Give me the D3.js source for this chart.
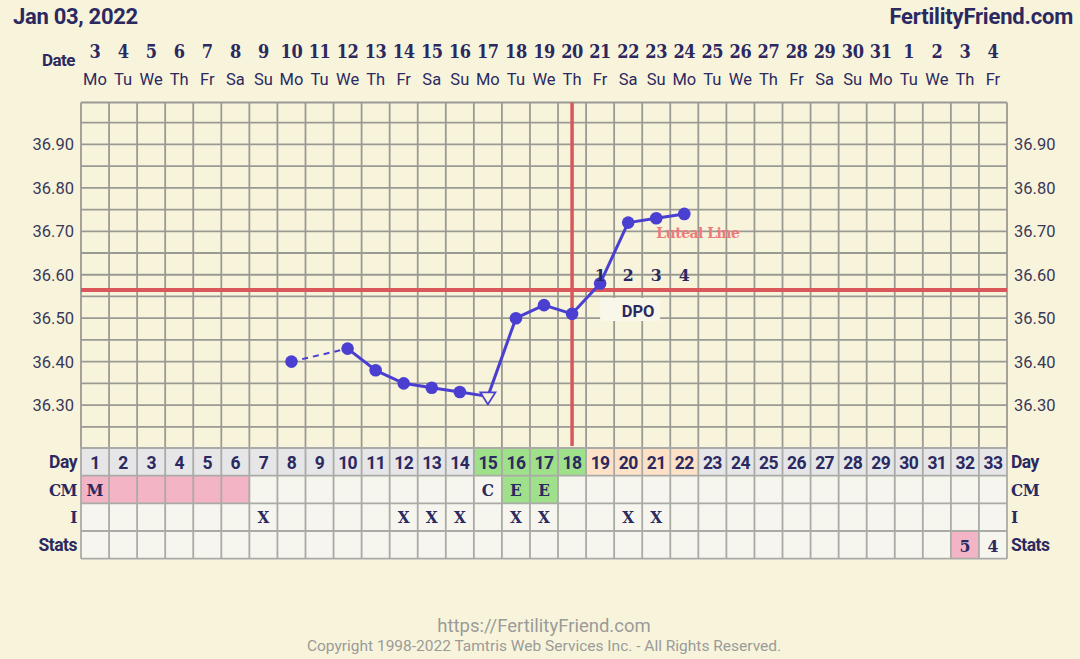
<!DOCTYPE html>
<html><head><meta charset="utf-8">
<script src="https://cdn.jsdelivr.net/npm/d3@7"></script>
<style>
html,body{margin:0;padding:0;background:#f8f4dc;}
svg{display:block;}
</style></head>
<body>
<svg id="c" width="1080" height="659"></svg>
<script>
// ---- data ----
const days = d3.range(1, 34);
const dates = [3,4,5,6,7,8,9,10,11,12,13,14,15,16,17,18,19,20,21,22,23,24,25,26,27,28,29,30,31,1,2,3,4];
const weekdays = ["Mo","Tu","We","Th","Fr","Sa","Su","Mo","Tu","We","Th","Fr","Sa","Su","Mo","Tu","We","Th","Fr","Sa","Su","Mo","Tu","We","Th","Fr","Sa","Su","Mo","Tu","We","Th","Fr"];
const temps = [null,null,null,null,null,null,null,36.40,null,36.43,36.38,36.35,36.34,36.33,36.32,36.50,36.53,36.51,36.58,36.72,36.73,36.74,null,null,null,null,null,null,null,null,null,null,null];
const tempMarkers = {15: "triangle"};
const yTicks = [36.30,36.40,36.50,36.60,36.70,36.80,36.90];
const coverline = 36.565;
const ovulationDay = 18;
const dpoDays = [19,20,21,22];
const dpoLabels = ["1","2","3","4"];
const dayRowColors = {15:"#9fe08a",16:"#9fe08a",17:"#9fe08a",18:"#9fe08a",19:"#fde2c8",20:"#fde2c8",21:"#fde2c8",22:"#fde2c8"};
const cmDays = [1,2,3,4,5,6,15,16,17];
const cmText = ["M","","","","","","C","E","E"];
const cmColors = ["#f3b4c6","#f3b4c6","#f3b4c6","#f3b4c6","#f3b4c6","#f3b4c6",null,"#9fe08a","#9fe08a"];
const intercourseDays = [7,12,13,14,16,17,20,21];
const statsDays = [32,33];
const statsText = ["5","4"];
const statsColors = ["#f3b4c6",null];
const rowLabels = ["Day","CM","I","Stats"];

// ---- drawing ----
const svg = d3.select("#c");
const navy = "#2b2960", blue = "#4a3fd0", red = "#d9575b", grid = "#9a9a94";
const sans = "Roboto, 'Noto Sans', sans-serif";
const slab = "'DejaVu Serif Condensed', 'DejaVu Serif', serif";

const x = d3.scaleBand().domain(days).range([81, 1007]);
const cx = d => x(d) + x.bandwidth()/2;
const y = d3.scaleLinear().domain([36.20, 36.95]).range([448.5, 122.7]);
const topY = 102.5, botY = 448;

function slabText(sel){ return sel.attr("font-family",slab).attr("font-weight",700).attr("font-stretch","condensed"); }

// header
svg.append("text").attr("x",13).attr("y",24).attr("font-family",sans).attr("font-weight",700)
  .attr("font-size",22).attr("fill",navy).attr("letter-spacing",-0.3).text("Jan 03, 2022");
svg.append("text").attr("x",1073).attr("y",24).attr("text-anchor","end").attr("font-family",sans).attr("font-weight",700)
  .attr("font-size",22).attr("fill",navy).attr("letter-spacing",-0.2).text("FertilityFriend.com");

svg.append("text").attr("x",75).attr("y",66).attr("text-anchor","end").attr("font-family",sans).attr("font-weight",700)
  .attr("font-size",17).attr("fill",navy).attr("letter-spacing",-0.5).text("Date");
slabText(svg.append("g").selectAll("text").data(days).join("text"))
  .attr("x",cx).attr("y",58).attr("text-anchor","middle")
  .attr("font-size",18).attr("fill",navy).attr("letter-spacing",-0.4).text((d,i)=>dates[i]);
svg.append("g").selectAll("text").data(days).join("text")
  .attr("x",cx).attr("y",85).attr("text-anchor","middle").attr("font-family",sans)
  .attr("font-size",16.5).attr("fill",navy).text((d,i)=>weekdays[i]);

// grid
const gg = svg.append("g").attr("stroke",grid).attr("stroke-width",1.8);
const hLines = d3.range(36.25, 36.951, 0.05);
gg.selectAll("line.h").data(hLines).join("line").attr("class","h")
  .attr("x1",81).attr("x2",1007).attr("y1",d=>y(d)).attr("y2",d=>y(d));
gg.append("line").attr("x1",81).attr("x2",1007).attr("y1",topY).attr("y2",topY);
gg.selectAll("line.v").data(days.concat([34])).join("line").attr("class","v")
  .attr("x1",d=>d<34?x(d):1007).attr("x2",d=>d<34?x(d):1007).attr("y1",topY).attr("y2",botY);

// y labels
[["end",74],["start",1014]].forEach(([anc,xx])=>{
  svg.append("g").selectAll("text").data(yTicks).join("text")
    .attr("x",xx).attr("y",d=>y(d)+6).attr("text-anchor",anc).attr("font-family",sans)
    .attr("font-size",16.5).attr("fill","#3a3858").text(d=>d.toFixed(2));
});

// coverline & ovulation line
svg.append("line").attr("x1",81).attr("x2",1007).attr("y1",y(coverline)).attr("y2",y(coverline))
  .attr("stroke",red).attr("stroke-width",4);
svg.append("line").attr("x1",cx(ovulationDay)).attr("x2",cx(ovulationDay)).attr("y1",topY).attr("y2",446)
  .attr("stroke",red).attr("stroke-width",3.5);

// temperature line
const pts = days.map((d,i)=>({d, t:temps[i]})).filter(p=>p.t!=null);
for (let i=0;i<pts.length-1;i++){
  const a=pts[i], b=pts[i+1];
  svg.append("line").attr("x1",cx(a.d)).attr("y1",y(a.t)).attr("x2",cx(b.d)).attr("y2",y(b.t))
    .attr("stroke",blue).attr("stroke-width",b.d-a.d>1?2:3)
    .attr("stroke-dasharray",b.d-a.d>1?"6,5":null);
}
pts.forEach(p=>{
  if (tempMarkers[p.d]==="triangle"){
    const X=cx(p.d), Y=y(p.t);
    svg.append("path").attr("d",`M${X-7.5},${Y-4}L${X+7.5},${Y-4}L${X},${Y+8}Z`)
      .attr("fill","#f8f4dc").attr("stroke",blue).attr("stroke-width",1.8);
  } else {
    svg.append("circle").attr("cx",cx(p.d)).attr("cy",y(p.t)).attr("r",6.3).attr("fill",blue);
  }
});

// DPO labels
slabText(svg.append("g").selectAll("text").data(dpoDays).join("text"))
  .attr("x",cx).attr("y",281).attr("text-anchor","middle")
  .attr("font-size",17.5).attr("fill",navy).text((d,i)=>dpoLabels[i]);
svg.append("rect").attr("x",cx(19)).attr("y",298).attr("width",60).attr("height",23).attr("fill","#f9f7ea");
svg.append("text").attr("x",cx(19)+38).attr("y",317).attr("text-anchor","middle").attr("font-family",sans)
  .attr("font-weight",700).attr("font-size",16.5).attr("fill",navy).text("DPO");
slabText(svg.append("text")).attr("x",cx(21)).attr("y",238)
  .attr("font-size",15.5).attr("fill","#ee7b7b").attr("letter-spacing",-0.5).text("Luteal Line");

// table
const rowY = [448, 475.7, 503.3, 531, 558.7];
const tg = svg.append("g");
tg.selectAll("rect.day").data(days).join("rect")
  .attr("x",d=>x(d)).attr("y",rowY[0]).attr("width",x.bandwidth()).attr("height",rowY[1]-rowY[0])
  .attr("fill",d=>dayRowColors[d]||"#e6e6e8");
for (let r=1;r<4;r++){
  tg.append("rect").attr("x",81).attr("y",rowY[r]).attr("width",926).attr("height",rowY[r+1]-rowY[r]).attr("fill","#f6f6ef");
}
tg.selectAll("rect.cm").data(cmDays.filter((d,i)=>cmColors[i])).join("rect")
  .attr("x",d=>x(d)).attr("y",rowY[1]).attr("width",x.bandwidth()).attr("height",rowY[2]-rowY[1])
  .attr("fill",d=>cmColors[cmDays.indexOf(d)]);
tg.selectAll("rect.st").data(statsDays.filter((d,i)=>statsColors[i])).join("rect")
  .attr("x",d=>x(d)).attr("y",rowY[3]).attr("width",x.bandwidth()).attr("height",rowY[4]-rowY[3])
  .attr("fill",d=>statsColors[statsDays.indexOf(d)]);
const tl = tg.append("g").attr("stroke","#aaaaa6").attr("stroke-width",1.8);
rowY.forEach(yy=>tl.append("line").attr("x1",81).attr("x2",1007).attr("y1",yy).attr("y2",yy));
days.concat([34]).forEach(d=>{const xx=d<34?x(d):1007; tl.append("line").attr("x1",xx).attr("x2",xx).attr("y1",rowY[0]).attr("y2",rowY[4]);});
tg.selectAll("text.dn").data(days).join("text")
  .attr("x",cx).attr("y",rowY[0]+21).attr("text-anchor","middle").attr("font-family",sans).attr("font-weight",700)
  .attr("font-size",17.5).attr("fill",navy).attr("letter-spacing",-0.6).text(d=>d);
slabText(tg.selectAll("text.cm").data(cmDays).join("text"))
  .attr("x",cx).attr("y",rowY[1]+20).attr("text-anchor","middle")
  .attr("font-size",17).attr("fill",navy).text((d,i)=>cmText[i]);
slabText(tg.selectAll("text.i").data(intercourseDays).join("text"))
  .attr("x",cx).attr("y",rowY[2]+20).attr("text-anchor","middle")
  .attr("font-size",17).attr("fill",navy).text("X");
slabText(tg.selectAll("text.st").data(statsDays).join("text"))
  .attr("x",cx).attr("y",rowY[3]+21).attr("text-anchor","middle")
  .attr("font-size",17.5).attr("fill",navy).text((d,i)=>statsText[i]);
rowLabels.forEach((lab,i)=>{
  const yy = rowY[i]+20;
  const isSlab = (lab==="CM"||lab==="I");
  [["end",77],["start",1011]].forEach(([anc,xx])=>{
    const t = tg.append("text").attr("x",xx).attr("y",yy).attr("text-anchor",anc)
      .attr("fill",navy).attr("letter-spacing",-0.5).text(lab);
    if (isSlab) slabText(t).attr("font-size",17);
    else t.attr("font-family",sans).attr("font-weight",700).attr("font-size",17.5);
  });
});

// footer
svg.append("text").attr("x",544).attr("y",632).attr("text-anchor","middle").attr("font-family",sans)
  .attr("font-size",18.5).attr("fill","#9b9b98").text("https://FertilityFriend.com");
svg.append("text").attr("x",544).attr("y",651).attr("text-anchor","middle").attr("font-family",sans)
  .attr("font-size",15.5).attr("fill","#9b9b98").text("Copyright 1998-2022 Tamtris Web Services Inc. - All Rights Reserved.");
</script>
</body></html>
